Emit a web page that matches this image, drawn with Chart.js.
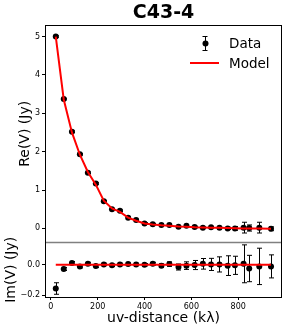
<!DOCTYPE html>
<html>
<head>
<meta charset="utf-8">
<script src="https://cdn.jsdelivr.net/npm/chart.js@4"></script>
<style>
  html, body { margin: 0; padding: 0; background: #fff; }
  #wrap { width: 288px; height: 332px; }
</style>
</head>
<body>
<div id="wrap"><canvas id="chart" width="288" height="332"></canvas></div>
<script>
const uvDist = [21, 55, 90, 124, 158, 192, 226, 261, 295, 330, 364, 400, 435, 472, 506, 545, 579, 614, 649, 684, 720, 755, 786, 823, 847, 890, 940];

const reData = [5.00, 3.37, 2.52, 1.93, 1.45, 1.17, 0.71, 0.50, 0.46, 0.28, 0.22, 0.13, 0.11, 0.09, 0.09, 0.04, 0.07, 0.035, 0.02, 0.03, 0.02, 0.00, 0.00, 0.02, 0.01, 0.02, -0.01];
const reErr = [0.02, 0.02, 0.02, 0.02, 0.02, 0.02, 0.02, 0.02, 0.02, 0.02, 0.02, 0.02, 0.02, 0.02, 0.02, 0.02, 0.02, 0.02, 0.02, 0.02, 0.03, 0.03, 0.05, 0.14, 0.08, 0.14, 0.05];
const reModel = [5.00, 3.36, 2.50, 1.92, 1.47, 1.14, 0.72, 0.52, 0.43, 0.28, 0.20, 0.13, 0.10, 0.08, 0.07, 0.05, 0.04, 0.03, 0.025, 0.02, 0.015, 0.01, 0.005, 0.0, 0.0, -0.005, -0.01];

const imData = [-0.157, -0.028, 0.011, -0.011, 0.006, -0.009, 0.002, -0.004, 0.002, 0.004, 0.002, 0.000, 0.006, -0.006, 0.004, -0.015, -0.006, -0.002, 0.006, 0.002, 0.002, -0.006, -0.004, 0.006, -0.025, -0.011, -0.011];
const imErr = [0.038, 0.01, 0.01, 0.01, 0.01, 0.01, 0.008, 0.008, 0.008, 0.008, 0.008, 0.008, 0.01, 0.012, 0.015, 0.02, 0.025, 0.03, 0.035, 0.04, 0.05, 0.065, 0.06, 0.125, 0.087, 0.12, 0.076];
const imModel = [0, 0, 0, 0, 0, 0, 0, 0, 0, 0, 0, 0, 0, 0, 0, 0, 0, 0, 0, 0, 0, 0, 0, 0, 0, 0, 0];

const xTicks = [0, 200, 400, 600, 800];
const reTicks = [0, 1, 2, 3, 4, 5];
const imTicks = [-0.2, 0.0];

const FONT = "'DejaVu Sans', sans-serif";
const pts = (ys) => ys.map((y, i) => ({ x: uvDist[i], y }));

// vertical error bars with caps, drawn under the points
const errorBars = {
  id: "errorBars",
  beforeDatasetsDraw(chart) {
    const ctx = chart.ctx;
    ctx.save();
    ctx.strokeStyle = "#000";
    ctx.lineWidth = 1;
    chart.data.datasets.forEach((ds, i) => {
      if (!ds.errors) return;
      const meta = chart.getDatasetMeta(i);
      const xs = chart.scales[meta.xAxisID];
      const ys = chart.scales[meta.yAxisID];
      ds.data.forEach((p, j) => {
        const e = ds.errors[j];
        const px = Math.round(xs.getPixelForValue(p.x)) + 0.5;
        const y0 = ys.getPixelForValue(p.y - e);
        const y1 = ys.getPixelForValue(p.y + e);
        ctx.beginPath();
        ctx.moveTo(px, y0); ctx.lineTo(px, y1);
        ctx.moveTo(px - 2.5, y0); ctx.lineTo(px + 2.5, y0);
        ctx.moveTo(px - 2.5, y1); ctx.lineTo(px + 2.5, y1);
        ctx.stroke();
      });
    });
    ctx.restore();
  },
};

// frame, divider, title and legend
const decor = {
  id: "decor",
  afterDraw(chart) {
    const ctx = chart.ctx;
    const a = chart.chartArea;
    const re = chart.scales.yRe;
    ctx.save();
    ctx.strokeStyle = "#808080";
    ctx.lineWidth = 1.5;
    ctx.beginPath();
    ctx.moveTo(a.left, re.bottom); ctx.lineTo(a.right, re.bottom);
    ctx.stroke();
    ctx.strokeStyle = "#000";
    ctx.lineWidth = 1;
    ctx.strokeRect(Math.round(a.left) + 0.5, Math.round(a.top) + 0.5,
      Math.round(a.right - a.left) - 1, Math.round(a.bottom - a.top));

    ctx.fillStyle = "#000";
    ctx.textAlign = "center";
    ctx.textBaseline = "middle";
    ctx.font = "bold 19px " + FONT;
    ctx.fillText("C43-4", (a.left + a.right) / 2, 13.5);

    // legend
    const lx = a.right - 53;
    const dy = a.top + 18.5;
    const my = a.top + 38;
    ctx.beginPath();
    ctx.moveTo(lx - 24 + 0.5, dy - 7); ctx.lineTo(lx - 24 + 0.5, dy + 7);
    ctx.moveTo(lx - 26.5, dy - 7); ctx.lineTo(lx - 21.5, dy - 7);
    ctx.moveTo(lx - 26.5, dy + 7); ctx.lineTo(lx - 21.5, dy + 7);
    ctx.stroke();
    ctx.beginPath();
    ctx.arc(lx - 23.5, dy, 3, 0, Math.PI * 2);
    ctx.fill();
    ctx.strokeStyle = "#ff0000";
    ctx.lineWidth = 2;
    ctx.beginPath();
    ctx.moveTo(lx - 39, my); ctx.lineTo(lx - 10, my);
    ctx.stroke();
    ctx.textAlign = "left";
    ctx.font = "13.5px " + FONT;
    ctx.fillText("Data", lx, dy + 0.5);
    ctx.fillText("Model", lx, my + 1);
    ctx.restore();
  },
};

const tickFont = { family: FONT, size: 8 };
const titleFont = { family: FONT, size: 14 };
const minus = (v) => v.toFixed(1).replace("-", "\u2212");

new Chart(document.getElementById("chart"), {
  type: "line",
  data: {
    datasets: [
      { label: "Model", data: pts(reModel), xAxisID: "x", yAxisID: "yRe", borderColor: "#ff0000", borderWidth: 2, pointRadius: 0, fill: false, tension: 0 },
      { label: "Model im", data: pts(imModel), xAxisID: "x", yAxisID: "yIm", borderColor: "#ff0000", borderWidth: 2, pointRadius: 0, fill: false, tension: 0 },
      { label: "Data", data: pts(reData), errors: reErr, xAxisID: "x", yAxisID: "yRe", showLine: false, pointRadius: 3, backgroundColor: "#000", borderColor: "#000", borderWidth: 0 },
      { label: "Data im", data: pts(imData), errors: imErr, xAxisID: "x", yAxisID: "yIm", showLine: false, pointRadius: 3, backgroundColor: "#000", borderColor: "#000", borderWidth: 0 },
    ],
  },
  options: {
    responsive: false,
    animation: false,
    layout: { padding: { top: 25, right: 6, left: 0, bottom: 0 } },
    plugins: { legend: { display: false }, tooltip: { enabled: false }, title: { display: false } },
    scales: {
      x: {
        type: "linear",
        position: "bottom",
        min: -25,
        max: 987,
        afterBuildTicks: (s) => { s.ticks = xTicks.map((v) => ({ value: v })); },
        afterFit: (s) => { s.height = 35; },
        grid: { display: true, drawOnChartArea: false, drawTicks: true, tickLength: 3, color: "#000" },
        border: { display: false },
        ticks: { font: tickFont, color: "#000", padding: 2, maxRotation: 0 },
        title: { display: true, text: "uv-distance (k\u03bb)", font: titleFont, color: "#000", padding: { top: 0, bottom: 5 } },
      },
      yIm: {
        type: "linear",
        position: "left",
        stack: "v",
        stackWeight: 1,
        min: -0.213,
        max: 0.146,
        afterBuildTicks: (s) => { s.ticks = imTicks.map((v) => ({ value: v })); },
        afterFit: (s) => { s.width = 45; },
        grid: { display: true, drawOnChartArea: false, drawTicks: true, tickLength: 3, color: "#000" },
        border: { display: false },
        ticks: { font: tickFont, color: "#000", padding: 2, callback: (v) => minus(v) },
        title: { display: true, text: "Im(V) (Jy)", font: titleFont, color: "#000", padding: { top: 2.5, bottom: 0 } },
      },
      yRe: {
        type: "linear",
        position: "left",
        stack: "v",
        stackWeight: 4,
        min: -0.37,
        max: 5.3,
        afterBuildTicks: (s) => { s.ticks = reTicks.map((v) => ({ value: v })); },
        afterFit: (s) => { s.width = 45; },
        grid: { display: true, drawOnChartArea: false, drawTicks: true, tickLength: 3, color: "#000" },
        border: { display: false },
        ticks: { font: tickFont, color: "#000", padding: 2, callback: (v) => String(v) },
        title: { display: true, text: "Re(V) (Jy)", font: titleFont, color: "#000", padding: { top: 17, bottom: 0 } },
      },
    },
  },
  plugins: [errorBars, decor],
});
</script>
</body>
</html>
